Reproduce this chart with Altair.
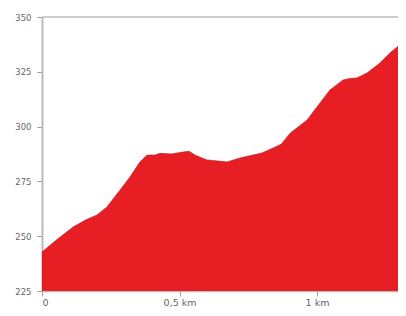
import altair as alt
import pandas as pd

distance_km = [0, 0.05, 0.113, 0.16, 0.2, 0.236, 0.284, 0.32, 0.356, 0.382, 0.411, 0.429,
               0.47, 0.513, 0.535, 0.556, 0.6, 0.64, 0.673, 0.72, 0.767, 0.80, 0.84, 0.87,
               0.902, 0.964, 1.011, 1.047, 1.095, 1.12, 1.145, 1.182, 1.229, 1.265, 1.309, 1.33]
elevation_m = [242.8, 248, 254.2, 257.5, 259.7, 263.3, 271.1, 277, 283.8, 287, 287, 287.8,
               287.5, 288.4, 288.8, 287, 284.8, 284.3, 283.9, 285.7, 287, 288, 290.2, 292,
               297, 303, 310.8, 316.7, 321.3, 322, 322.2, 324.5, 329, 333.6, 338.1, 340]
y_ticks = [225, 250, 275, 300, 325, 350]
x_ticks = [0, 0.5, 1]

df = pd.DataFrame({"km": distance_km, "elev": elevation_m})

x_scale = alt.Scale(domain=[0, 1.2945], nice=False)
y_scale = alt.Scale(domain=[225, 350], nice=False, zero=False)

area = alt.Chart(df).mark_area(
    color="#e81e25", stroke="#b5121a", strokeWidth=0.6, clip=True, interpolate="linear"
).encode(
    x=alt.X("km:Q", scale=x_scale,
            axis=alt.Axis(values=x_ticks, title=None, grid=False,
                          labelExpr="datum.value == 0 ? '0' : datum.value == 0.5 ? '0,5 km' : '1 km'",
                          domainColor="#bbbbbb", domainWidth=1.5, tickColor="#999999",
                          tickSize=5, labelFontSize=9.5, labelColor="#666666",
                          labelFont="DejaVu Sans", labelBaseline="alphabetic",
                          labelPadding=9)),
    y=alt.Y("elev:Q", scale=y_scale,
            axis=alt.Axis(values=y_ticks, title=None, grid=False,
                          domainColor="#bbbbbb", domainWidth=2, tickColor="#999999",
                          tickSize=5, labelFontSize=8.5, labelColor="#666666",
                          labelFont="DejaVu Sans", labelPadding=6)),
)

top = alt.Chart(pd.DataFrame({"y": [350]})).mark_rule(color="#bbbbbb", strokeWidth=1.5).encode(
    y=alt.Y("y:Q", scale=y_scale)
)

chart = alt.layer(area, top).properties(
    width=356, height=274,
    autosize=alt.AutoSizeParams(type="none"),
    padding={"left": 34, "top": 9, "right": 0, "bottom": 17},
).configure_view(stroke=None)

chart.save("out.html", embed_options={"renderer": "svg", "actions": False})
